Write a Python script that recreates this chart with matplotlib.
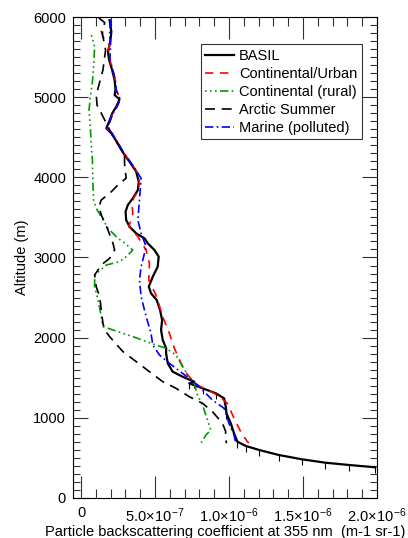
import numpy as np
import matplotlib
matplotlib.use("Agg")
import matplotlib.pyplot as plt
import matplotlib.ticker as mticker

plt.rcParams['font.family'] = ['Liberation Sans', 'DejaVu Sans']
plt.rcParams['mathtext.fontset'] = 'custom'
plt.rcParams['mathtext.rm'] = 'Liberation Sans'
plt.rcParams['mathtext.it'] = 'Liberation Sans'

# backscatter profiles (x in 1e-6 m-1 sr-1, altitude in m)
basil_alt = [5962, 5816, 5691, 5567, 5463, 5339, 5214, 5089, 5027, 4973, 4881, 4799, 4695,
             4612, 4549, 4487, 4382, 4278, 4195, 4070, 3945, 3841, 3738, 3654, 3571, 3468,
             3384, 3301, 3239, 3177, 3093, 3010, 2885, 2760, 2636, 2553, 2470, 2345, 2220,
             2096, 1971, 1867, 1805, 1680, 1576, 1513, 1451, 1430, 1368, 1306, 1243, 1139,
             1056, 931, 806, 702, 649, 599, 536, 482, 440, 412, 383]
basil_x = [0.193, 0.205, 0.198, 0.182, 0.190, 0.210, 0.227, 0.233, 0.227, 0.260, 0.238, 0.211,
           0.190, 0.171, 0.205, 0.227, 0.260, 0.294, 0.328, 0.373, 0.390, 0.384, 0.350, 0.316,
           0.301, 0.305, 0.328, 0.373, 0.429, 0.451, 0.496, 0.525, 0.518, 0.485, 0.458, 0.473,
           0.511, 0.534, 0.548, 0.541, 0.552, 0.575, 0.575, 0.586, 0.619, 0.686, 0.765, 0.731,
           0.821, 0.911, 0.967, 0.978, 0.983, 1.012, 1.034, 1.057, 1.113, 1.203, 1.337, 1.494,
           1.651, 1.808, 1.988]

urban_alt = [5830, 5754, 5650, 5567, 5463, 5339, 5214, 5089, 4973, 4881, 4799, 4695, 4612,
             4549, 4382, 4278, 4195, 4070, 3945, 3841, 3738, 3654, 3551, 3384, 3260, 3093,
             2926, 2719, 2511, 2262, 2054, 1867, 1680, 1534, 1409, 1285, 1181, 994, 827, 702,
             686]
urban_x = [0.135, 0.148, 0.192, 0.186, 0.195, 0.215, 0.232, 0.238, 0.265, 0.243, 0.216, 0.195,
           0.176, 0.210, 0.265, 0.299, 0.333, 0.378, 0.395, 0.389, 0.355, 0.345, 0.350, 0.323,
           0.384, 0.440, 0.462, 0.458, 0.511, 0.552, 0.597, 0.631, 0.676, 0.720, 0.787, 0.922,
           0.989, 1.034, 1.079, 1.124, 1.135]

rural_alt = [5775, 5629, 5380, 5193, 5006, 4840, 4632, 4382, 4216, 3883, 3717, 3613, 3509,
             3364, 3239, 3197, 3093, 3010, 2948, 2906, 2781, 2636, 2470, 2262, 2137, 2096,
             2013, 1930, 1867, 1784, 1638, 1513, 1430, 1285, 1160, 848, 786, 682]
rural_x = [0.070, 0.092, 0.085, 0.077, 0.063, 0.054, 0.063, 0.070, 0.077, 0.081, 0.085, 0.103,
           0.137, 0.182, 0.249, 0.283, 0.350, 0.305, 0.260, 0.171, 0.092, 0.092, 0.115, 0.137,
           0.148, 0.216, 0.350, 0.473, 0.575, 0.642, 0.686, 0.731, 0.765, 0.787, 0.821, 0.877,
           0.844, 0.810]

arctic_alt = [5990, 5930, 5795, 5588, 5339, 5214, 5027, 4902, 4799, 4674, 4549, 4382, 4278,
              4174, 3988, 3925, 3821, 3717, 3634, 3530, 3343, 3177, 3093, 2989, 2906, 2781,
              2636, 2511, 2345, 2179, 2096, 2013, 1826, 1701, 1576, 1451, 1368, 1264, 1181,
              1077, 931, 827, 765, 682]
arctic_x = [0.120, 0.160, 0.144, 0.166, 0.148, 0.130, 0.103, 0.108, 0.137, 0.171, 0.205, 0.260,
            0.294, 0.294, 0.305, 0.260, 0.205, 0.137, 0.121, 0.137, 0.182, 0.216, 0.227, 0.193,
            0.137, 0.092, 0.103, 0.126, 0.137, 0.148, 0.160, 0.193, 0.283, 0.373, 0.462, 0.552,
            0.642, 0.731, 0.821, 0.888, 0.956, 0.978, 0.974, 0.983]

marine_alt = [5962, 5797, 5650, 5463, 5339, 5214, 5089, 4973, 4881, 4799, 4695, 4612, 4549,
              4382, 4278, 4195, 4070, 3988, 3717, 3468, 3301, 3135, 2885, 2719, 2511, 2262,
              2054, 1908, 1784, 1680, 1555, 1409, 1222, 1118, 931, 786, 690]
marine_x = [0.200, 0.193, 0.200, 0.195, 0.215, 0.232, 0.238, 0.265, 0.243, 0.216, 0.195, 0.176,
            0.210, 0.265, 0.299, 0.333, 0.378, 0.406, 0.395, 0.384, 0.406, 0.440, 0.406, 0.395,
            0.406, 0.440, 0.473, 0.485, 0.530, 0.597, 0.686, 0.787, 0.888, 0.967, 1.000, 1.034,
            1.046]

fig = plt.figure(figsize=(4.08, 5.38), dpi=100)
ax = fig.add_axes([0.179, 0.0744, 0.745, 0.894])

ax.plot(basil_x, basil_alt, color='black', lw=1.6, ls='-', label='BASIL')
# error ticks hanging below the lower part of the BASIL profile
low = np.array(basil_alt) < 1480
ax.plot(np.array(basil_x)[low], np.array(basil_alt)[low], ls='none', marker=3,
        ms=4, mew=0.8, color='black')
ax.plot(urban_x, urban_alt, color='red', lw=1.2, ls=(0, (5, 4)),
        label='Continental/Urban')
ax.plot(rural_x, rural_alt, color='#009900', lw=1.2,
        ls=(0, (1, 2, 1, 2, 1, 2, 5, 2)), label='Continental (rural)')
ax.plot(arctic_x, arctic_alt, color='black', lw=1.2, ls=(0, (6, 4)),
        label='Arctic Summer')
ax.plot(marine_x, marine_alt, color='blue', lw=1.2, ls=(0, (5, 2, 1, 2)),
        label='Marine (polluted)')

ax.set_xlim(-0.054, 2.0)
ax.set_ylim(0, 6000)

def sci_fmt(v, pos):
    if abs(v) < 1e-9:
        return '0'
    mant, e = ('%.1e' % (v * 1e-6)).split('e')
    return r'$%s\!\times\!10^{%d}$' % (mant, int(e))

ax.xaxis.set_major_locator(mticker.FixedLocator([0, 0.5, 1.0, 1.5, 2.0]))
ax.xaxis.set_minor_locator(mticker.FixedLocator(np.arange(0, 2.01, 0.1)))
ax.xaxis.set_major_formatter(mticker.FuncFormatter(sci_fmt))
ax.yaxis.set_major_locator(mticker.MultipleLocator(1000))
ax.yaxis.set_minor_locator(mticker.MultipleLocator(100))

ax.tick_params(axis='both', which='both', direction='in', top=True, right=True,
               labelsize=10.5, width=0.8, color='#333333')
ax.tick_params(axis='x', which='major', length=15.5, pad=6)
ax.tick_params(axis='x', which='minor', length=6.5)
ax.tick_params(axis='y', which='major', length=10.8, pad=5)
ax.tick_params(axis='y', which='minor', length=5)
for s in ax.spines.values():
    s.set_linewidth(0.8)

ax.set_xlabel('Particle backscattering coefficient at 355 nm  (m-1 sr-1)', fontsize=10.5,
              labelpad=0)
ax.set_ylabel('Altitude (m)', fontsize=10.5, labelpad=3)

leg = ax.legend(loc='upper right', bbox_to_anchor=(0.95, 0.943), fontsize=10.5,
                frameon=True, fancybox=False, edgecolor='black', handlelength=2.0,
                borderpad=0.3, labelspacing=0.28, handletextpad=0.35, borderaxespad=0)
leg.get_frame().set_linewidth(0.8)

plt.savefig('out.png', dpi=100)
